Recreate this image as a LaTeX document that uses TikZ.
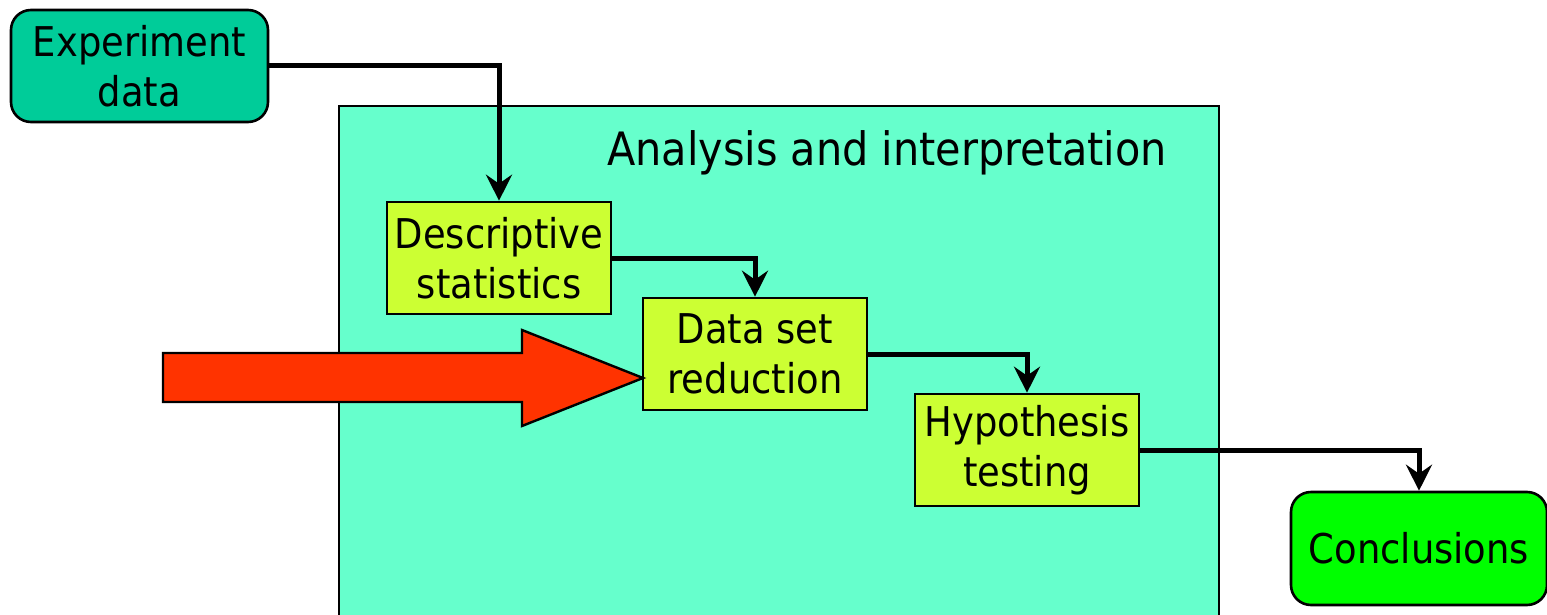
\documentclass[tikz,border=0pt]{standalone}
\usepackage{fontspec}
\setmainfont{DejaVu Sans Condensed}
\usetikzlibrary{arrows.meta}
\definecolor{expgreen}{HTML}{00CC99}
\definecolor{panel}{HTML}{66FFCC}
\definecolor{stepyellow}{HTML}{CCFF33}
\definecolor{bigred}{HTML}{FF3300}
\definecolor{brightgreen}{HTML}{00FF00}
\tikzset{
  lbl/.style={font=\fontsize{41}{50}\selectfont, align=center, inner sep=0pt},
  stepbox/.style={lbl, draw=black, line width=2.6pt, fill=stepyellow, minimum width=224pt, minimum height=112pt},
  endbox/.style={lbl, draw=black, line width=2.6pt, rounded corners=20pt, minimum height=112pt},
  conn/.style={draw=black, line width=5pt, -{Stealth[length=26pt,width=26pt,inset=9pt]}},
}
\begin{document}
\begin{tikzpicture}[x=1pt,y=-1pt]
\useasboundingbox (0,0) rectangle (1547,615);
% panel
\draw[line width=2.6pt, fill=panel] (339,625) -- (339,106) -- (1219,106) -- (1219,625);
\node[lbl, font=\fontsize{46}{55}\selectfont, anchor=base] (title) at (887,165) {Analysis and interpretation};
% nodes
\node[endbox, fill=expgreen, minimum width=257pt] (exp) at (139.5,66) {Experiment\\data};
\node[stepbox] (desc) at (499,258) {Descriptive\\statistics};
\node[stepbox] (ds) at (755,354) {Data set\\reduction};
\node[stepbox] (hyp) at (1027,450) {Hypothesis\\testing};
\node[endbox, fill=brightgreen, minimum width=256pt, minimum height=113pt] (concl) at (1419,548.5) {Conclusions};
% red arrow
\coordinate (tip) at (643,378);
\draw[line width=2.4pt, fill=bigred, line join=miter] (163,353) -- (522,353) -- (522,330) -- (tip) -- (522,426) -- (522,402) -- (163,402) -- cycle;
% connectors
\draw[conn] (exp.east) -| (desc.north);
\draw[conn] (desc.east) -| (ds.north);
\draw[conn] (ds.east) -| (hyp.north);
\draw[conn] (hyp.east) -| (concl.north);
\end{tikzpicture}
\end{document}
